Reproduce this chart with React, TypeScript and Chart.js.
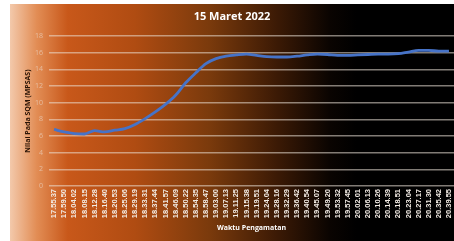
import React, { useEffect, useRef } from 'react';
import { Chart, registerables } from 'chart.js';

Chart.register(...registerables);

const chartTitle = '15 Maret 2022';
const yAxisTitle = 'Nilai Pada SQM (MPSAS)';
const xAxisTitle = 'Waktu Pengamatan';

const timeLabels = [
  '17.55.37', '17.59.50', '18.04.02', '18.08.15', '18.12.28', '18.16.40', '18.20.53', '18.25.06',
  '18.29.19', '18.33.31', '18.37.44', '18.41.57', '18.46.09', '18.50.22', '18.54.35', '18.58.47',
  '19.03.00', '19.07.13', '19.11.25', '19.15.38', '19.19.51', '19.24.04', '19.28.16', '19.32.29',
  '19.36.42', '19.40.54', '19.45.07', '19.49.20', '19.53.32', '19.57.45', '20.02.01', '20.06.13',
  '20.10.26', '20.14.39', '20.18.51', '20.23.04', '20.27.17', '20.31.30', '20.35.42', '20.39.55',
];

const sqmValues = [
  6.8, 6.5, 6.3, 6.25, 6.65, 6.5, 6.7, 6.9,
  7.4, 8.1, 8.9, 9.8, 10.9, 12.4, 13.6, 14.7,
  15.3, 15.6, 15.75, 15.85, 15.7, 15.55, 15.5, 15.5,
  15.6, 15.75, 15.85, 15.8, 15.7, 15.7, 15.75, 15.8,
  15.85, 15.85, 15.9, 16.1, 16.3, 16.3, 16.2, 16.2,
];

const yMin = 0;
const yMax = 18;
const yStep = 2;

export default function App() {
  const canvasRef = useRef<HTMLCanvasElement | null>(null);

  useEffect(() => {
    if (!canvasRef.current) return;
    const chart = new Chart(canvasRef.current, {
      type: 'line',
      data: {
        labels: timeLabels,
        datasets: [
          {
            data: sqmValues,
            borderColor: '#4673c8',
            borderWidth: 2.8,
            pointRadius: 0,
            cubicInterpolationMode: 'monotone',
            fill: false,
          },
        ],
      },
      options: {
        responsive: false,
        animation: false,
        layout: { padding: { left: 0, right: 0, top: 0, bottom: 0 } },
        plugins: {
          legend: { display: false },
          tooltip: { enabled: false },
          title: {
            display: true,
            text: chartTitle,
            color: '#ffffff',
            font: { family: 'Open Sans', size: 11, weight: 'bold' },
            padding: { top: 6, bottom: 13 },
          },
        },
        scales: {
          x: {
            offset: true,
            grid: { display: false, drawTicks: false },
            border: { display: false },
            ticks: {
              autoSkip: false,
              minRotation: 90,
              maxRotation: 90,
              padding: 3,
              color: '#f2ebe4',
              font: { family: 'Liberation Sans', size: 7.5, weight: 'bold' },
            },
            title: {
              display: true,
              text: xAxisTitle,
              color: '#ffffff',
              font: { family: 'Open Sans', size: 7, weight: 'bold' },
              padding: { top: 0, bottom: 9 },
            },
            afterFit: (scale: any) => {
              scale.height = 55;
              scale.paddingLeft = 0;
              scale.paddingRight = 0;
            },
          },
          y: {
            min: yMin,
            max: yMax,
            grid: {
              color: 'rgba(235,225,215,0.55)',
              lineWidth: 1.5,
              drawTicks: false,
            },
            border: { display: false },
            ticks: {
              stepSize: yStep,
              padding: 6,
              color: 'rgba(235,215,200,0.65)',
              font: { family: 'Open Sans', size: 7 },
            },
            title: {
              display: true,
              text: yAxisTitle,
              color: '#2a1406',
              font: { family: 'Open Sans', size: 7, weight: 'bold' },
              padding: { top: 14, bottom: 0 },
            },
            afterFit: (scale: any) => {
              scale.width = 39;
            },
          },
        },
      },
    });
    return () => chart.destroy();
  }, []);

  return (
    <div
      style={{
        position: 'absolute',
        left: 10,
        top: 4,
        width: 444,
        height: 237,
        background:
          'linear-gradient(to right, #f3c9ab 0%, #e28d55 6%, #c8581a 13%, #b04c12 28%, #7a3a0c 45%, #3c1a05 60%, #0a0401 72%, #000000 78%, #000000 100%)',
      }}
    >
      <canvas ref={canvasRef} width={444} height={237} style={{ display: 'block' }} />
    </div>
  );
}
